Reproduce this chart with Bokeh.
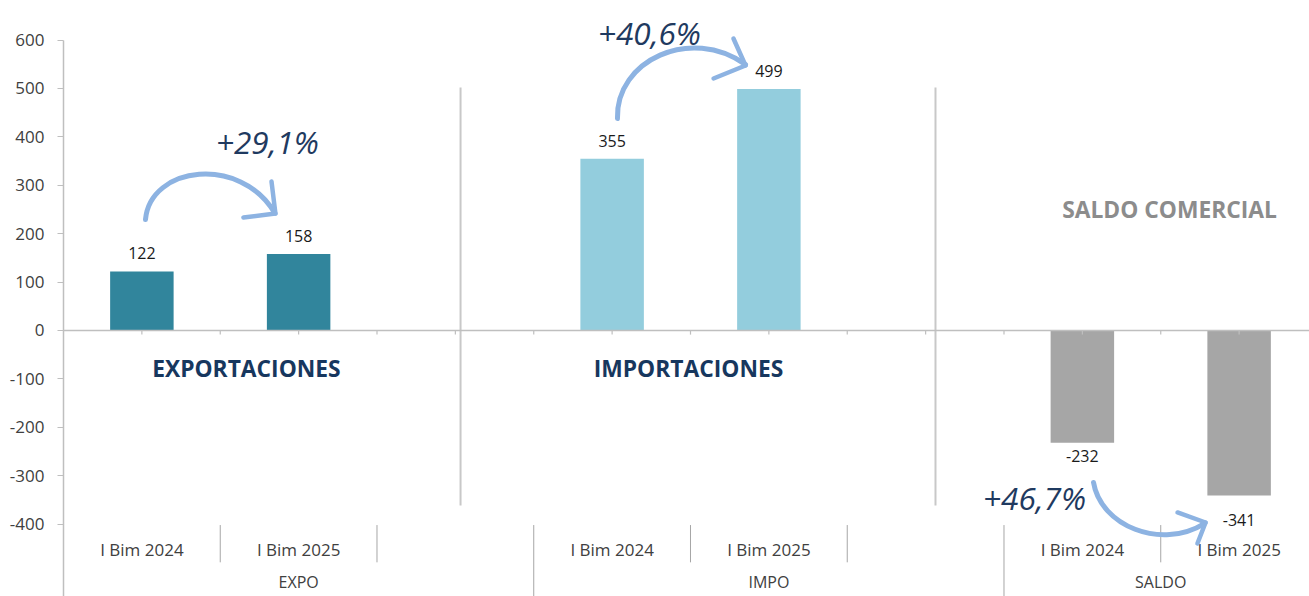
from bokeh.plotting import figure
from bokeh.models import ColumnDataSource, Range1d, FixedTicker, Span
from bokeh.core.properties import value
from bokeh.embed import file_html
from bokeh.resources import INLINE

# ---------------- data ----------------
groups = ["EXPO", "IMPO", "SALDO"]
group_slots = [3, 3, 2]
periods = ["I Bim 2024", "I Bim 2025"]
expo = [122, 158]
impo = [355, 499]
saldo = [-232, -341]
series = [expo, impo, saldo]
titles = ["EXPORTACIONES", "IMPORTACIONES", "SALDO COMERCIAL"]
growth = ["+29,1%", "+40,6%", "+46,7%"]
y_ticks = [-400, -300, -200, -100, 0, 100, 200, 300, 400, 500, 600]

# ---------------- style ----------------
group_colors = ["#31859c", "#93cddd", "#a6a6a6"]
title_colors = ["#17375e", "#17375e", "#8c8c8c"]
label_gap = [[18, 18], [18, 18], [13, 24]]
FONT = "Open Sans"
NAVY = "#1f3a60"
ARROW = "#8db3e2"

W, H = 1309, 596
X_END = 7.949
Y_START, Y_END = -549.6, 681.8

p = figure(width=W, height=H, x_range=Range1d(0, X_END), y_range=Range1d(Y_START, Y_END),
           output_backend="svg", toolbar_location=None, x_axis_location=None,
           min_border_left=63, min_border_right=0, min_border_top=0, min_border_bottom=0)
p.outline_line_color = None
p.xgrid.visible = False
p.ygrid.visible = False
p.background_fill_color = "white"
p.border_fill_color = "white"

ax = p.yaxis[0]
ax.ticker = FixedTicker(ticks=y_ticks)
ax.major_label_overrides = {t: str(t) for t in y_ticks}
ax.bounds = (Y_START, 600)
ax.axis_line_color = "#bfbfbf"
ax.axis_line_width = 1.5
ax.major_tick_line_color = "#bfbfbf"
ax.major_tick_out = 6
ax.major_tick_in = 0
ax.minor_tick_out = 0
ax.minor_tick_in = 0
ax.major_label_standoff = 13
ax.major_label_text_font = FONT
ax.major_label_text_font_size = "17px"
ax.major_label_text_color = "#404040"

# ---------------- layout of slots ----------------
starts = []
acc = 0
for n in group_slots:
    starts.append(acc)
    acc += n

bx, btop, bcol, lab_y, lab_off, lab_txt = [], [], [], [], [], []
cat_x, cat_txt = [], []
for g, vals in enumerate(series):
    for i, v in enumerate(vals):
        x = starts[g] + i + 0.5
        bx.append(x)
        btop.append(v)
        bcol.append(group_colors[g])
        lab_y.append(v)
        lab_off.append(-label_gap[g][i] if v >= 0 else label_gap[g][i])
        lab_txt.append(str(v))
        cat_x.append(x)
        cat_txt.append(periods[i])

# separators in the category axis area
inner_sep, group_sep = [], []
for g, n in enumerate(group_slots):
    for k in range(1, n):
        inner_sep.append(starts[g] + k)
    if g > 0:
        group_sep.append(starts[g])

p.add_layout(Span(location=0, dimension="width", line_color="#bfbfbf", line_width=1.5))

p.vbar(x="x", top="top", bottom=0, width=0.405, fill_color="c", line_color=None,
       source=ColumnDataSource(dict(x=bx, top=btop, c=bcol)))

# small ticks on the zero line
tick_x = [k * 0.5 for k in range(1, 16)]
p.segment(x0=tick_x, y0=[0] * len(tick_x), x1=tick_x, y1=[-8.5] * len(tick_x),
          line_color="#bfbfbf", line_width=1.2)

# value labels
p.text(x="x", y="y", text="t", y_offset="off",
       source=ColumnDataSource(dict(x=bx, y=lab_y, t=lab_txt, off=lab_off)),
       text_font=value(FONT), text_font_size="16px", text_color="#1a1a1a",
       text_align="center", text_baseline="middle")

# category labels + separators
p.text(x=cat_x, y=[-452] * len(cat_x), text=cat_txt, text_font=value(FONT),
       text_font_size="17px", text_color="#404040", text_align="center", text_baseline="middle")
p.segment(x0=inner_sep, y0=[-402] * len(inner_sep), x1=inner_sep, y1=[-479] * len(inner_sep),
          line_color="#a6a6a6", line_width=1)
p.segment(x0=group_sep, y0=[-402] * len(group_sep), x1=group_sep, y1=[Y_START] * len(group_sep),
          line_color="#a6a6a6", line_width=1)
grp_x = [starts[g] + group_slots[g] / 2 for g in range(len(groups))]
p.text(x=grp_x, y=[-520] * len(groups), text=groups, text_font=value(FONT),
       text_font_size="16px", text_color="#404040", text_align="center", text_baseline="middle")

# decorative vertical dividers in the plot
div_x = [2.533, 5.563]
p.segment(x0=div_x, y0=[-361.6] * 2, x1=div_x, y1=[502] * 2, line_color="#c8c8c8", line_width=2)

# section titles
p.text(x=[1.167, 3.987, 7.056], y=[-78.5, -78.5, 250], text=titles, text_font=value(FONT),
       text_font_size="22.8px", text_font_style="bold", text_color=title_colors,
       text_align="center", text_baseline="middle")

# growth percentages
p.text(x=[1.301, 3.738, 6.195], y=[390.5, 615.7, -345], text=growth, text_font=value(FONT),
       text_font_size="31.5px", text_font_style="italic", text_color=NAVY,
       text_align="center", text_baseline="middle")

# curved arrows
p.bezier(x0=[0.523, 3.534, 6.571], y0=[229.3, 438.0, -314.0],
         x1=[1.346, 4.351, 7.279], y1=[243.8, 549.6, -398.8],
         cx0=[0.555, 3.522, 6.616], cy0=[340.9, 557.9, -402.9],
         cx1=[1.129, 4.000, 6.998], cy1=[361.6, 630.2, -454.5],
         line_color=ARROW, line_width=5, line_cap="round")
tip_x = [1.352, 1.352, 4.351, 4.351, 7.286, 7.286]
tip_y = [241.7, 241.7, 547.5, 547.5, -396.7, -396.7]
arm_x = [1.327, 1.148, 4.274, 4.147, 7.107, 7.234]
arm_y = [307.9, 233.5, 603.3, 520.7, -376.0, -440.1]
p.segment(x0=tip_x, y0=tip_y, x1=arm_x, y1=arm_y, line_color=ARROW, line_width=4.5, line_cap="round")

open("out.html", "w").write(file_html(p, INLINE))
